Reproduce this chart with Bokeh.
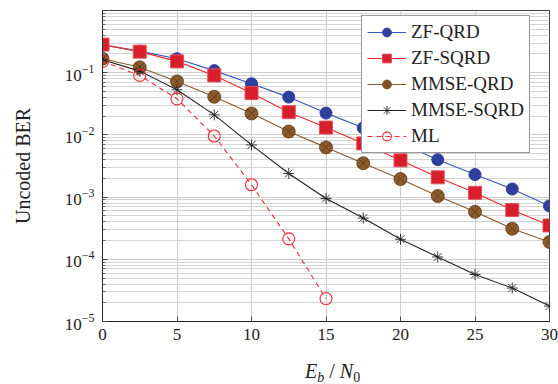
import numpy as np
from bokeh.plotting import figure
from bokeh.layouts import column
from bokeh.models import FixedTicker, Legend, LegendItem, Div
from bokeh.embed import file_html
from bokeh.resources import INLINE

# ---- data ----
snr = [0, 2.5, 5, 7.5, 10, 12.5, 15, 17.5, 20, 22.5, 25, 27.5, 30]
zf_qrd = [0.28, 0.222, 0.168, 0.108, 0.0665, 0.0405, 0.0224, 0.013, 0.0074,
          0.0040, 0.0023, 0.00135, 0.00072]
zf_sqrd = [0.283, 0.218, 0.152, 0.0905, 0.047, 0.0232, 0.0131, 0.0073, 0.0039,
           0.00208, 0.00117, 0.00062, 0.00035]
mmse_qrd = [0.168, 0.122, 0.0724, 0.041, 0.0221, 0.0113, 0.0063, 0.0035, 0.00195,
            0.00104, 0.00058, 0.00031, 0.00019]
mmse_sqrd = [0.162, 0.106, 0.0532, 0.021, 0.0069, 0.0024, 0.00095, 0.00046, 0.00021,
             0.000109, 5.7e-5, 3.45e-5, 1.77e-5]
snr_ml = [0, 2.5, 5, 7.5, 10, 12.5, 15]
ml = [0.152, 0.0905, 0.038, 0.0096, 0.00158, 0.000213, 2.34e-5]

x_ticks = [0, 5, 10, 15, 20, 25, 30]
y_ticks = [1e-5, 1e-4, 1e-3, 1e-2, 1e-1]
y_minor = [m * 10.0 ** e for e in range(-5, 0) for m in range(2, 10)]

FONT = "Liberation Serif"

p = figure(width=558, height=350, x_range=(0, 30), y_range=(1e-5, 1),
           y_axis_type="log", output_backend="svg", toolbar_location=None,
           min_border_left=102, min_border_right=9, min_border_top=10,
           min_border_bottom=29)
p.outline_line_color = "#444444"
p.outline_line_width = 1

# grid
p.xgrid.ticker = FixedTicker(ticks=x_ticks)
p.xgrid.grid_line_color = "#cccccc"
p.ygrid.grid_line_color = "#cccccc"
p.ygrid.minor_grid_line_color = "#d4d4d4"

# axes
p.xaxis.ticker = FixedTicker(ticks=x_ticks)
p.yaxis.ticker = FixedTicker(ticks=y_ticks, minor_ticks=y_minor)
for ax in (p.xaxis[0], p.yaxis[0]):
    ax.major_tick_in = 5
    ax.major_tick_out = 0
    ax.minor_tick_in = 3
    ax.minor_tick_out = 0
    ax.axis_line_color = "#222222"
    ax.major_tick_line_color = "#444444"
    ax.minor_tick_line_color = "#666666"
    ax.major_label_text_font = FONT
    ax.major_label_text_font_size = "17px"
    ax.major_label_text_color = "#222222"
p.xaxis.minor_tick_line_color = None
p.xaxis.major_label_standoff = 7
p.yaxis.major_label_standoff = 8
p.yaxis.axis_label = "Uncoded BER"
p.yaxis.axis_label_text_font = FONT
p.yaxis.axis_label_text_font_style = "normal"
p.yaxis.axis_label_text_font_size = "20px"
p.yaxis.axis_label_text_color = "#222222"
p.yaxis.axis_label_standoff = 28

# series
l1 = p.line(snr, zf_qrd, line_color="#3a58b8", line_width=1.1)
s1 = p.scatter(snr, zf_qrd, marker="circle", size=12, fill_color="#2f3f9f",
               line_color="#2f3f9f")
l2 = p.line(snr, zf_sqrd, line_color="#ee2a33", line_width=1.1)
s2 = p.scatter(snr, zf_sqrd, marker="square", size=13, fill_color="#d61f2a",
               line_color="#e8505a")
l3 = p.line(snr, mmse_qrd, line_color="#8c5a2b", line_width=1.1)
s3 = p.scatter(snr, mmse_qrd, marker="circle_x", size=13, fill_color="#8c5a2b",
               line_color="#5a3818", line_width=0.8)
l4 = p.line(snr, mmse_sqrd, line_color="#222222", line_width=1.1)
s4 = p.scatter(snr, mmse_sqrd, marker="asterisk", size=11, line_color="#222222",
               line_width=0.9)
l5 = p.line(snr_ml, ml, line_color="#ee2a33", line_width=1.1, line_dash="5 4")
s5 = p.scatter(snr_ml, ml, marker="circle", size=12, fill_color=None,
               line_color="#ee2a33", line_width=1.1)

legend = Legend(items=[
    LegendItem(label="ZF-QRD", renderers=[l1, s1]),
    LegendItem(label="ZF-SQRD", renderers=[l2, s2]),
    LegendItem(label="MMSE-QRD", renderers=[l3, s3]),
    LegendItem(label="MMSE-SQRD", renderers=[l4, s4]),
    LegendItem(label="ML", renderers=[l5, s5]),
], location=(259, 168))
legend.label_text_font = FONT
legend.label_text_font_size = "19px"
legend.label_text_color = "#222222"
legend.label_height = 22
legend.glyph_height = 22
legend.glyph_width = 39
legend.label_standoff = 5
legend.label_width = 110
legend.spacing = 4
legend.padding = 5
legend.margin = 0
legend.border_line_color = "#333333"
legend.border_line_width = 1
legend.background_fill_alpha = 1
p.add_layout(legend, "center")

# x-axis label  E_b / N_0  (HTML text so that the subscripts are real)
sub = "vertical-align:-4px;font-size:14px"
xlabel = Div(
    width=558, height=34,
    text=("<div style=\"padding-left:300px;padding-top:5px;"
          "font-family:'Liberation Serif';font-size:20px;line-height:22px;"
          "color:#222222;white-space:nowrap\">"
          f"<i>E</i><span style=\"{sub}\"><i>b</i></span> / "
          f"<i>N</i><span style=\"{sub}\">0</span></div>"))

layout = column(p, xlabel, spacing=0)
open("out.html", "w").write(file_html(layout, INLINE))
